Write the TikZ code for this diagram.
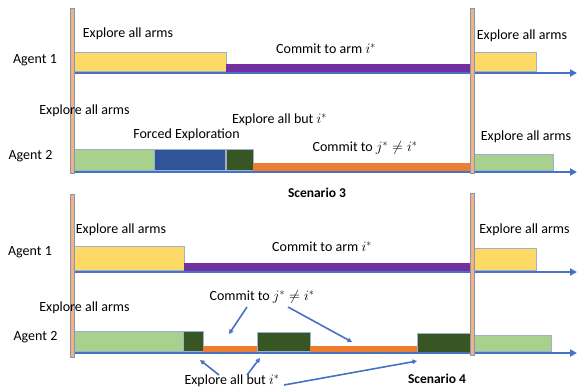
\documentclass[tikz,border=0pt]{standalone}
\usepackage{fontspec}
\setmainfont{Carlito}
\usetikzlibrary{arrows.meta}
\definecolor{axisblue}{HTML}{4472C4}
\definecolor{cyellow}{HTML}{FFD966}
\definecolor{cpurple}{HTML}{7030A0}
\definecolor{clgreen}{HTML}{A9D18E}
\definecolor{cdblue}{HTML}{2F5597}
\definecolor{cdgreen}{HTML}{375623}
\definecolor{corange}{HTML}{ED7D31}
\definecolor{csalmon}{HTML}{F4B183}
\definecolor{cvgray}{HTML}{8497B0}
\definecolor{cboxline}{HTML}{9DB0D0}
\begin{document}
\begin{tikzpicture}[x=1pt,y=-1pt,
  lbl/.style={font=\fontsize{14}{16}\selectfont, inner sep=0pt, anchor=center},
  scen/.style={font=\fontsize{13.5}{16}\selectfont\bfseries, inner sep=0pt, anchor=center},
  boxd/.style={draw=cboxline, line width=0.5pt},
  axisline/.style={axisblue, line width=2.6pt, -{Triangle[length=7pt,width=7pt]}},
  vbar/.style={fill=csalmon, draw=cvgray, line width=0.6pt},
  ptr/.style={axisblue, line width=1.6pt, -{Triangle[length=4.5pt,width=4.5pt]}}]
\useasboundingbox (0,0) rectangle (578,388);

% ---------- Scenario 3 ----------
% Agent 1
\fill[boxd, fill=cyellow] (73,52) rectangle (226,71.5);
\fill[fill=cpurple] (226,64) rectangle (471,71.5);
\fill[boxd, fill=cyellow] (474,52) rectangle (536,71.5);
% Agent 2
\fill[boxd, fill=clgreen] (73,149) rectangle (154,170.5);
\fill[boxd, fill=cdblue] (154,149) rectangle (225,170.5);
\fill[boxd, fill=cdgreen] (226,149) rectangle (253,170.5);
\fill[fill=corange] (253,163) rectangle (471,170.5);
\fill[boxd, fill=clgreen] (474,154) rectangle (553,170.5);
% axes
\coordinate (a1s) at (73,73);   \coordinate (a1e) at (577,73);
\coordinate (a2s) at (73,172);  \coordinate (a2e) at (577,172);
\draw[axisline] (a1s) -- (a1e);
\draw[axisline] (a2s) -- (a2e);
% vertical bars
\filldraw[vbar] (70,8) rectangle (74,173.5);
\filldraw[vbar] (470,8) rectangle (474,173.5);
% labels
\node[lbl] (t1) at (128,34) {Explore all arms};
\node[lbl] (t2) at (326,49) {Commit to arm $i^*$};
\node[lbl] (t3) at (522,36) {Explore all arms};
\node[lbl] (t4) at (35,60) {Agent 1};
\node[lbl] (t5) at (84.5,111) {Explore all arms};
\node[lbl] (t6) at (186.5,135) {Forced Exploration};
\node[lbl] (t7) at (279.5,120) {Explore all but $i^*$};
\node[lbl] (t8) at (365,148) {Commit to $j^*\neq i^*$};
\node[lbl] (t9) at (526,137) {Explore all arms};
\node[lbl] (t10) at (30.5,156) {Agent 2};
\node[scen] (s3) at (317,193) {Scenario 3};

% ---------- Scenario 4 ----------
% Agent 1
\fill[boxd, fill=cyellow] (73,246) rectangle (184,270.5);
\fill[fill=cpurple] (184,263) rectangle (471,270.5);
\fill[boxd, fill=cyellow] (474,248) rectangle (536,270.5);
% Agent 2
\fill[boxd, fill=clgreen] (73,331) rectangle (183,351.5);
\fill[boxd, fill=cdgreen] (183,331) rectangle (203,351.5);
\fill[fill=corange] (203,346) rectangle (257,351.5);
\fill[boxd, fill=cdgreen] (257,332) rectangle (310,351.5);
\fill[fill=corange] (310,346) rectangle (417,351.5);
\fill[boxd, fill=cdgreen] (417,333) rectangle (471,353);
\fill[boxd, fill=clgreen] (474,335) rectangle (551,351.5);
% axes
\coordinate (b1s) at (73,272);  \coordinate (b1e) at (577,272);
\coordinate (b2s) at (73,353);  \coordinate (b2e) at (577,353);
\draw[axisline] (b1s) -- (b1e);
\draw[axisline] (b2s) -- (b2e);
% vertical bars
\filldraw[vbar] (70,194) rectangle (74,357);
\filldraw[vbar] (470,193) rectangle (474,355);
% labels
\node[lbl] (u1) at (121,230) {Explore all arms};
\node[lbl] (u2) at (322,247) {Commit to arm $i^*$};
\node[lbl] (u3) at (524.5,230) {Explore all arms};
\node[lbl] (u4) at (30,252) {Agent 1};
\node[lbl] (u5) at (84.5,308) {Explore all arms};
\node[lbl] (u6) at (35.5,337) {Agent 2};
\node[lbl] (u7) at (262,297) {Commit to $j^*\neq i^*$};
\node[lbl] (u8) at (232,381) {Explore all but $i^*$};
\node[scen] (s4) at (437,379) {Scenario 4};
% pointers
\coordinate (p1s) at (247,307); \coordinate (p1e) at (229,334);
\coordinate (p2s) at (288,307); \coordinate (p2e) at (352,342);
\coordinate (p3s) at (219,375); \coordinate (p3e) at (200,360);
\coordinate (p4s) at (247,375); \coordinate (p4e) at (260,358);
\coordinate (p5s) at (284,385); \coordinate (p5e) at (417,361);
\draw[ptr] (p1s) -- (p1e);
\draw[ptr] (p2s) -- (p2e);
\draw[ptr] (p3s) -- (p3e);
\draw[ptr] (p4s) -- (p4e);
\draw[ptr] (p5s) -- (p5e);
\end{tikzpicture}
\end{document}
